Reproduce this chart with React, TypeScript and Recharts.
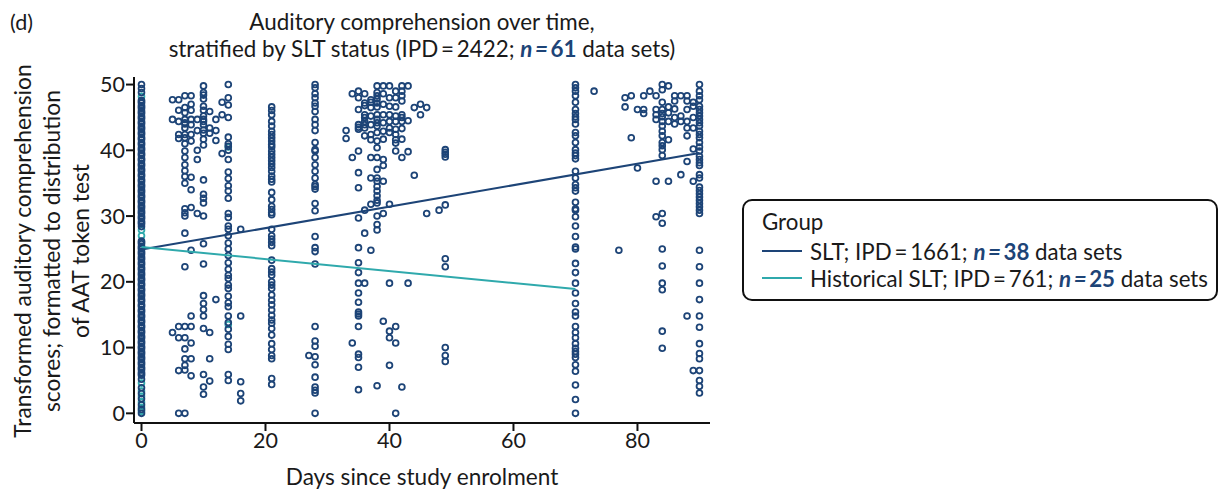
import { ScatterChart, Scatter, XAxis, YAxis } from 'recharts';

const NAVY = '#1d4477';
const TEAL = '#2fa9ac';
const FONT = 'Lato, sans-serif';

const xTicks = [0, 20, 40, 60, 80];
const yTicks = [0, 10, 20, 30, 40, 50];

// values read per day column
const d0 = [50, 49.4, 48.8, 47.6, 47.2, 46.8, 46.4, 46, 45.6, 45.2, 44.8, 44.4, 44, 43.6, 43.2, 42.8, 42.4, 42, 41.6, 41.2, 40.8, 40.4, 40, 39.6, 39.2, 38.8, 38.4, 38, 37.6, 37.2, 36.8, 36.4, 36, 35.6, 35.2, 34.8, 34.4, 34, 33.6, 33.2, 32.8, 32.4, 32, 31.6, 31.2, 30.8, 30.4, 30, 29.6, 29.2, 28.8, 28.4, 26.2, 25.8, 25.4, 25, 24.6, 24.2, 23.8, 23.4, 23, 22.6, 22.2, 21.8, 21.4, 21, 20.6, 20.2, 19.8, 19.4, 19, 18.6, 18.2, 17.8, 17.4, 17, 16.6, 16.2, 15.8, 15.4, 15, 14.6, 14.2, 13.8, 13.4, 13, 12.6, 12.2, 11.8, 11.4, 11, 10.6, 10.2, 9.8, 9.4, 9, 8.6, 8.2, 7.8, 7.4, 7, 6.6, 6.2, 5.8, 5.2, 3.9, 3, 2.2, 1.3, 0.6, 0];
// second pass of the same column, it is nearly solid in the picture
const d0b = [47.4, 46.6, 45.8, 45, 44.2, 43.4, 42.6, 41.8, 41, 40.2, 39.4, 38.6, 37.8, 37, 36.2, 35.4, 34.6, 33.8, 33, 32.2, 31.4, 30.6, 29.8, 29, 26, 25.2, 24.4, 23.6, 22.8, 22, 21.2, 20.4, 19.6, 18.8, 18, 17.2, 16.4, 15.6, 14.8, 14, 13.2, 12.4, 11.6, 10.8, 10, 9.2, 8.4, 7.6, 6.8, 6];
const d5 = [47.7, 44.7, 12.3];
const d6 = [47.7, 46.1, 44.4, 42.4, 41.8, 13.2, 11.5, 6.5, 0];
const d7 = [48.3, 46.5, 45.7, 44.7, 44.2, 44, 43.4, 42.4, 41.9, 41, 39.9, 38.9, 37.8, 36.9, 36, 35, 31.1, 30.5, 30, 27.4, 22.3, 13.2, 11.5, 9.8, 8.3, 7.3, 6.6, 0];
const d8 = [48.3, 47, 46.1, 44.7, 43.9, 42.4, 41.4, 35.9, 34, 31.3, 24.8, 14.8, 13.2, 10.7, 8.3, 5.7];
const d9 = [44.7, 43, 40, 38.6, 30.4];
const d10 = [49.8, 48.8, 48.4, 47.8, 46.7, 46.1, 45.2, 44.7, 44.4, 43.9, 43.1, 42.6, 41.7, 40.8, 35.5, 33.3, 32.7, 32, 30, 25.8, 22.7, 17.9, 16.7, 15.8, 14.8, 12.9, 5.9, 4, 2.9];
const d11 = [45.9, 43.4, 42.6, 12.3, 8.3, 4.9];
const d12 = [44.7, 43, 41.5, 17.3];
const d13 = [47.3, 45.4, 39.5];
const d14 = [50, 48, 46.9, 45, 42, 41, 40.6, 40, 38.6, 36.7, 35.7, 34.6, 33.8, 32.7, 30.4, 29.8, 28.5, 28, 27, 25.9, 25, 24, 22.9, 21.9, 21, 20.5, 19.5, 19, 17.8, 16.8, 16.2, 14.8, 13.8, 12.8, 11.7, 10.5, 9.7, 5.9, 5];
const d16 = [28, 14.8, 4.8, 3, 1.9];
const d21 = [46.6, 46.05, 45.4, 44.4, 43.7, 42.9, 42.4, 41.9, 41.4, 40.9, 40.5, 39.9, 39.4, 38.9, 38.4, 37.9, 37.4, 36.8, 36.1, 35.6, 35.2, 33.6, 32.5, 31.5, 31, 30.5, 30.2, 28, 27, 26.5, 26, 25.5, 23.3, 22, 21.5, 21, 20, 19.5, 19, 18, 17.2, 16.5, 15.7, 14.9, 14.2, 13.7, 12.9, 11.9, 10.6, 9.7, 8.8, 8.3, 5.3, 4.4];
const d27 = [8.8];
const d28 = [50, 49.5, 48.6, 48, 47.2, 46.7, 45.9, 44.7, 43.9, 43, 41.2, 40.1, 39.9, 38.9, 37.8, 36.8, 35.8, 34.8, 34.5, 34.1, 31.9, 30.8, 26.9, 25.2, 24.6, 22.7, 13.2, 11, 10.2, 8.6, 7.4, 5.5, 4, 3.5, 3.1, 0];
const d33 = [43, 41.8];
const d34 = [48.6, 38.9, 10.7];
const d35 = [49, 48, 46.2, 43.9, 43.5, 43.2, 39.9, 36.6, 34.3, 29.7, 25.2, 22.9, 21.4, 19.8, 18.3, 16.9, 15.4, 15.1, 14.8, 13.2, 9, 8.5, 7, 3.6];
const d36 = [48.6, 47.2, 46.8, 45.4, 45, 44.4, 43.9, 43.4, 42.2, 30.9, 27.4, 19.8];
const d37 = [47.7, 47.3, 46.5, 45.2, 43.9, 42.4, 41.6, 38.9, 35.8, 31.8, 24.8];
const d38 = [49.8, 48.8, 48.3, 47.8, 47.2, 46.6, 45.4, 44.7, 44.2, 43.7, 42.7, 41.4, 40.4, 38.9, 37.1, 35.8, 35.3, 34.5, 33.8, 33.1, 32.4, 32, 30, 28.7, 27.9, 4.2];
const d39 = [49.8, 48.6, 47, 45.4, 44.2, 42.9, 41.7, 38.6, 37.7, 35.3, 30.4, 14];
const d40 = [49.8, 48, 46.7, 45.4, 44.4, 43.4, 42.7, 31.8, 19.8, 12.5, 11.5, 7.3];
const d41 = [49, 48, 46.6, 45.2, 44.4, 43.2, 42.4, 41.6, 41.1, 39.9, 13.2, 10.7, 0];
const d42 = [49.8, 49, 48.3, 47.5, 45.4, 45, 44.4, 43.3, 41.7, 38.9, 4];
const d43 = [49.8, 44.5, 39.8, 19.8];
const d44 = [46.5, 36.2];
const d45 = [47, 45.4];
const d46 = [46.5, 30.4];
const d48 = [30.9];
const d49 = [40.1, 39.7, 39.4, 39, 31.7, 23.5, 22.3, 10, 8.8, 7.9];
const d70 = [50, 49.5, 49, 48.3, 47.3, 46.2, 45.6, 45.1, 44.7, 44, 42.7, 42.2, 41.2, 40.1, 39.6, 39.2, 38.7, 36.8, 35.8, 34.8, 34.3, 33.8, 32.1, 31.1, 30.9, 29.9, 28.5, 26.9, 25.3, 25, 22.8, 21.4, 19.8, 18.3, 16.7, 15.4, 14.8, 13.2, 12.3, 11.5, 10.6, 9.9, 9.4, 9, 8.5, 7.4, 6.4, 4.3, 2.1, 0];
const d73 = [49];
const d77 = [24.8];
const d78 = [48, 46.6];
const d79 = [48.3, 41.9];
const d80 = [46.2, 37.3];
const d81 = [48.3, 46.2, 45.6];
const d82 = [49];
const d83 = [48.3, 46.2, 45.4, 44.7, 35.3, 29.9];
const d84 = [50, 49.2, 47.3, 46.2, 45.6, 45.1, 44.4, 43.7, 42.9, 42.2, 41.2, 40.7, 40.1, 39.2, 30.4, 28.9, 25, 22.4, 19.8, 18.8, 12.5, 9.9];
const d85 = [49.8, 46.6, 45.7, 44.4, 41.6, 35.3];
const d86 = [48.3, 47.5, 46.3, 45, 44];
const d87 = [48.3, 45.2, 44.4, 36.3];
const d88 = [48.3, 47.5, 46.2, 44.4, 43.4, 42.2, 38.3, 14.8];
const d89 = [47.3, 46.7, 45, 43.4, 40.2, 35.3, 6.5];
const d90 = [50, 49, 48.3, 47.7, 46.7, 46.2, 45.7, 45.2, 44.7, 44.2, 43.7, 42.9, 42.4, 41.9, 41.2, 40.5, 39.9, 39.1, 38.6, 38.1, 37.7, 36.3, 35.8, 34.4, 33.9, 33.4, 32.9, 32.4, 31.9, 31.4, 30.9, 30.4, 24.8, 22.3, 19.8, 17.3, 14.8, 13.1, 10.6, 9.1, 8.3, 6.5, 5, 4.1, 3.1];

const sltDays: [number, number[]][] = [
  [0, d0], [0, d0b], [5, d5], [6, d6], [7, d7], [8, d8], [9, d9], [10, d10], [11, d11], [12, d12], [13, d13], [14, d14], [16, d16],
  [21, d21], [27, d27], [28, d28], [33, d33], [34, d34], [35, d35], [36, d36], [37, d37], [38, d38], [39, d39], [40, d40],
  [41, d41], [42, d42], [43, d43], [44, d44], [45, d45], [46, d46], [48, d48], [49, d49], [70, d70], [73, d73], [77, d77],
  [78, d78], [79, d79], [80, d80], [81, d81], [82, d82], [83, d83], [84, d84], [85, d85], [86, d86], [87, d87], [88, d88],
  [89, d89], [90, d90],
];

const histDay0 = [48.2, 27.9, 27, 4.6, 3.4, 2.6, 1.7, 0.9, 0.3];
const histDay14 = [40.5, 13.5];
const histDays: [number, number[]][] = [[0, histDay0], [14, histDay14]];

const sltLine = [{ x: 0, y: 24.9 }, { x: 90, y: 39.6 }];
const histLine = [{ x: 0, y: 25.3 }, { x: 70, y: 18.9 }];

const toPoints = (days: [number, number[]][]) =>
  days.flatMap(([day, vals]) => vals.map((v) => ({ x: day, y: v })));

const Ring = (color: string) => (props: any) =>
  <circle cx={props.cx} cy={props.cy} r={2.9} fill="none" stroke={color} strokeWidth={1.8} />;

const NoDot = () => null;

const n = (t: string) => <b style={{ color: NAVY, fontStyle: 'italic' }}>{t}</b>;
const num = (t: string) => <b style={{ color: NAVY }}>{t}</b>;

const FS = 21.5;
const textBase: any = { position: 'absolute', fontFamily: FONT, color: '#1a1a1a', whiteSpace: 'nowrap' };

export default function App() {
  return (
    <div style={{ position: 'absolute', left: 0, top: 0, width: 1221, height: 491, background: '#fff', overflow: 'hidden' }}>
      <ScatterChart width={1221} height={491} margin={{ top: 77, right: 511, bottom: 0, left: 0 }}>
        <XAxis
          type="number"
          dataKey="x"
          domain={[-1.21, 91.7]}
          ticks={xTicks}
          height={68}
          tickSize={8}
          tickMargin={2}
          stroke="#111"
          strokeWidth={2}
          tick={{ fill: '#1a1a1a', fontSize: FS, fontFamily: FONT }}
          label={{ value: 'Days since study enrolment', position: 'insideBottom', offset: 6, fill: '#1a1a1a', fontSize: 22.6, fontFamily: FONT }}
        />
        <YAxis
          type="number"
          dataKey="y"
          domain={[-1.47, 51.15]}
          ticks={yTicks}
          width={134}
          tickSize={8}
          tickMargin={1}
          stroke="#111"
          strokeWidth={2}
          tick={{ fill: '#1a1a1a', fontSize: FS, fontFamily: FONT }}
        />
        <Scatter data={toPoints(histDays)} shape={Ring(TEAL)} isAnimationActive={false} />
        <Scatter data={toPoints(sltDays)} shape={Ring(NAVY)} isAnimationActive={false} />
        <Scatter data={sltLine} line={{ stroke: NAVY, strokeWidth: 2 }} shape={NoDot} isAnimationActive={false} />
        <Scatter data={histLine} line={{ stroke: TEAL, strokeWidth: 2 }} shape={NoDot} isAnimationActive={false} />
      </ScatterChart>

      <div style={{ ...textBase, left: 10, top: 9, fontSize: FS }}>(d)</div>
      <div style={{ ...textBase, left: 0, width: 844, top: 8, fontSize: 22.4, textAlign: 'center', lineHeight: '27px' }}>
        Auditory comprehension over time,
        <br />
        stratified by SLT status (IPD{'\u2009=\u2009'}2422; {n('n\u2009=\u2009')}{num('61')} data sets)
      </div>

      {/* rotated y axis title, three lines */}
      <div
        style={{
          ...textBase,
          left: 51,
          top: 251,
          fontSize: 22.8,
          lineHeight: '29px',
          textAlign: 'center',
          transform: 'translate(-50%, -50%) rotate(-90deg)',
        }}
      >
        Transformed auditory comprehension
        <br />
        scores; formatted to distribution
        <br />
        of AAT token test
      </div>

      {/* legend */}
      <div style={{ position: 'absolute', left: 742, top: 199, width: 476, height: 102, border: '2px solid #111', borderRadius: 10, boxSizing: 'border-box' }} />
      <div style={{ ...textBase, left: 762, top: 208, fontSize: 22.3 }}>Group</div>
      <div style={{ position: 'absolute', left: 762, top: 250, width: 40, height: 2, background: NAVY }} />
      <div style={{ ...textBase, left: 810, top: 238, fontSize: 22.3 }}>
        SLT; IPD{'\u2009=\u2009'}1661; {n('n\u2009=\u2009')}{num('38')} data sets
      </div>
      <div style={{ position: 'absolute', left: 762, top: 277, width: 40, height: 2, background: TEAL }} />
      <div style={{ ...textBase, left: 810, top: 265, fontSize: 22.3 }}>
        Historical SLT; IPD{'\u2009=\u2009'}761; {n('n\u2009=\u2009')}{num('25')} data sets
      </div>
    </div>
  );
}
